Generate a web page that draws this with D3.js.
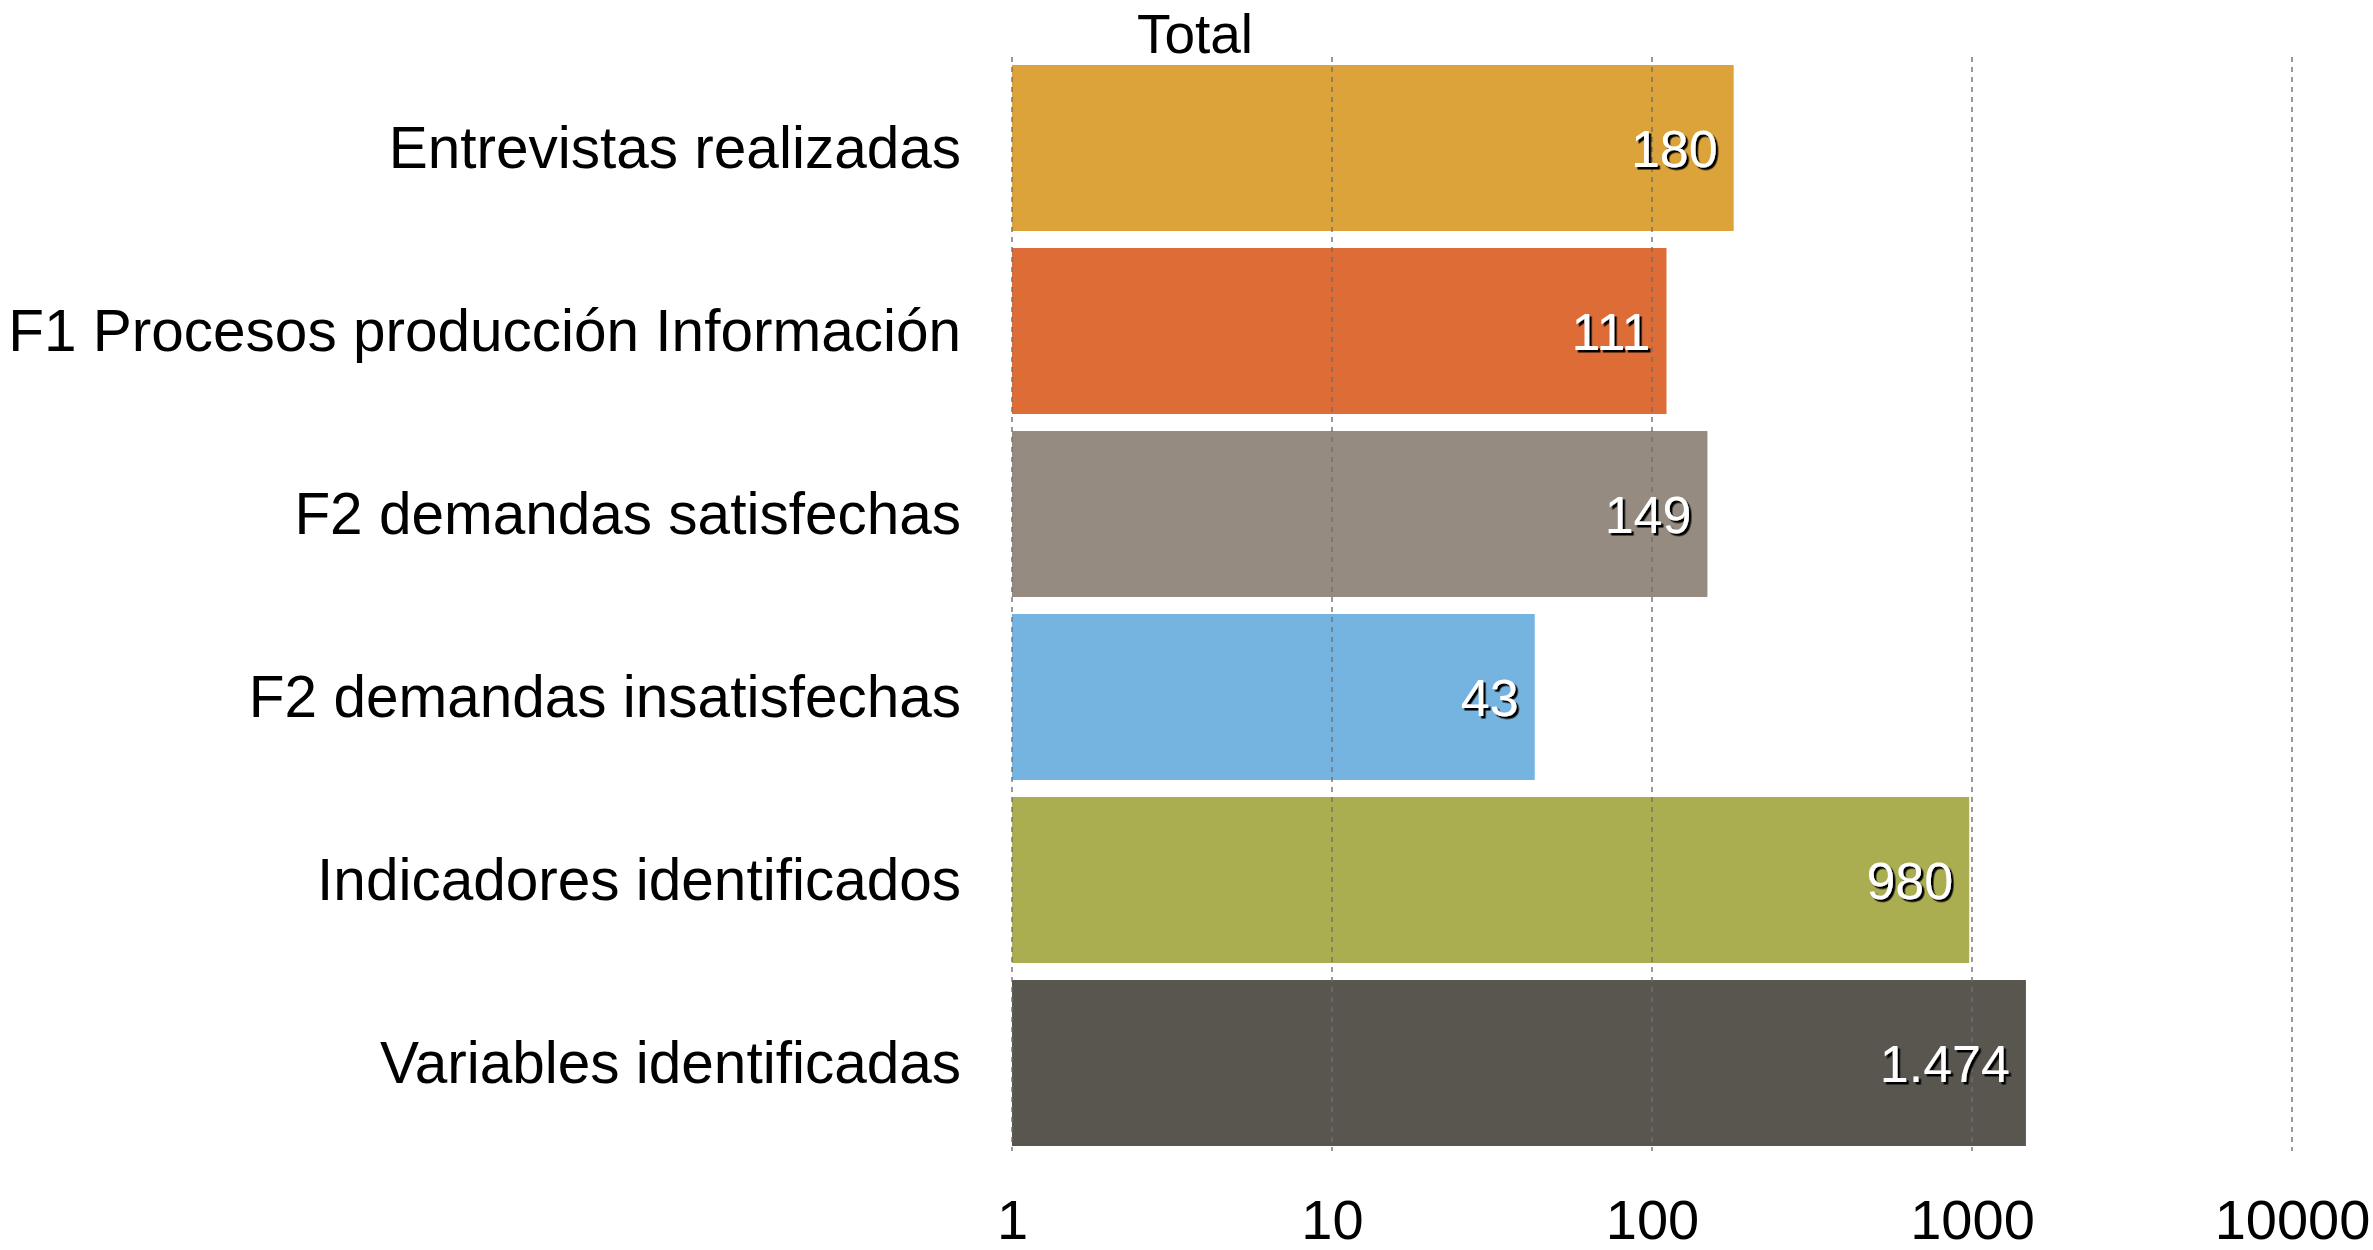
<!DOCTYPE html>
<html>
<head>
<meta charset="utf-8">
<script src="https://cdn.jsdelivr.net/npm/d3@7"></script>
<style>
  body { margin: 0; background: #fff; }
  text { font-family: "Liberation Sans", Arial, sans-serif; }
</style>
</head>
<body>
<div id="chart"></div>
<script>
var categories = [
    "Entrevistas realizadas",
    "F1 Procesos producción Información",
    "F2 demandas satisfechas",
    "F2 demandas insatisfechas",
    "Indicadores identificados",
    "Variables identificadas"
];
var values = [180, 111, 149, 43, 980, 1474];
var valueLabels = ["180", "111", "149", "43", "980", "1.474"];
var barColors = ["#dba339", "#dd6c37", "#958b80", "#75b4e0", "#abad51", "#59564f"];
var tickValues = [1, 10, 100, 1000, 10000];
var title = "Total";

var width = 2373, height = 1250;

var svg = d3.select("#chart").append("svg")
    .attr("width", width)
    .attr("height", height);

var x = d3.scaleLog()
    .domain([1, 10000])
    .range([1012, 2292]);

var y = d3.scaleBand()
    .domain(categories)
    .range([65, 1146])
    .paddingInner(17 / 183)
    .paddingOuter(0);

// shadow for value labels
var defs = svg.append("defs");
var f = defs.append("filter").attr("id", "shadow")
    .attr("x", "-20%").attr("y", "-20%").attr("width", "140%").attr("height", "140%");
f.append("feDropShadow")
    .attr("dx", 2.5).attr("dy", 2.5)
    .attr("stdDeviation", 0.6)
    .attr("flood-color", "#000")
    .attr("flood-opacity", 1);

// bars
svg.selectAll("rect.bar")
    .data(values)
    .enter()
    .append("rect")
    .attr("class", "bar")
    .attr("x", x(1))
    .attr("y", function(d, i) { return y(categories[i]); })
    .attr("width", function(d) { return x(d) - x(1); })
    .attr("height", y.bandwidth())
    .attr("fill", function(d, i) { return barColors[i]; });

// gridlines on top of bars
svg.selectAll("line.grid")
    .data(tickValues)
    .enter()
    .append("line")
    .attr("class", "grid")
    .attr("x1", function(d) { return x(d); })
    .attr("x2", function(d) { return x(d); })
    .attr("y1", 57)
    .attr("y2", 1151)
    .attr("stroke", "#6f6f6f")
    .attr("stroke-opacity", 0.7)
    .attr("stroke-width", 2)
    .attr("stroke-dasharray", "5,5");

// value labels
svg.selectAll("text.val")
    .data(values)
    .enter()
    .append("text")
    .attr("class", "val")
    .attr("x", function(d) { return x(d) - 16; })
    .attr("y", function(d, i) { return y(categories[i]) + y.bandwidth() / 2 + 19; })
    .attr("text-anchor", "end")
    .attr("font-size", 52)
    .attr("fill", "#fff")
    .attr("filter", "url(#shadow)")
    .text(function(d, i) { return valueLabels[i]; });

// category labels
svg.selectAll("text.cat")
    .data(categories)
    .enter()
    .append("text")
    .attr("class", "cat")
    .attr("x", 961)
    .attr("y", function(d) { return y(d) + y.bandwidth() / 2 + 20; })
    .attr("text-anchor", "end")
    .attr("font-size", 58.5)
    .attr("fill", "#000")
    .text(function(d) { return d; });

// bottom axis labels
var axis = d3.axisBottom(x)
    .tickValues(tickValues)
    .tickFormat(d3.format("d"))
    .tickSize(0)
    .tickPadding(0);

var ax = svg.append("g")
    .attr("transform", "translate(0,1199)")
    .call(axis);
ax.select(".domain").remove();
ax.selectAll("text")
    .attr("font-size", 56)
    .attr("font-family", "Liberation Sans, Arial, sans-serif")
    .attr("fill", "#000")
    .attr("dy", "0.71em");

// title
svg.append("text")
    .attr("x", 1195)
    .attr("y", 53)
    .attr("text-anchor", "middle")
    .attr("font-size", 55)
    .attr("fill", "#000")
    .text(title);
</script>
</body>
</html>
